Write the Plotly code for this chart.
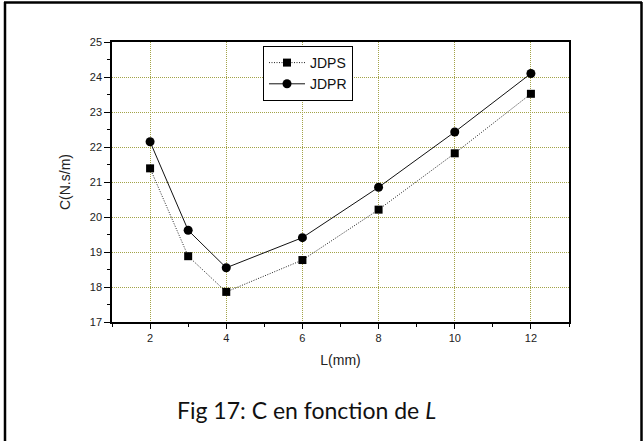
import plotly.graph_objects as go

L_mm = [2, 3, 4, 6, 8, 10, 12]
jdps = [21.39, 18.88, 17.86, 18.77, 20.21, 21.82, 23.52]
jdpr = [22.15, 19.62, 18.55, 19.41, 20.85, 22.43, 24.10]
x_ticks = [2, 4, 6, 8, 10, 12]
y_ticks = [17, 18, 19, 20, 21, 22, 23, 24, 25]

W, H = 643, 441
ml, mr, mt, mb = 112, 74, 42, 119
pw, ph = W - ml - mr, H - mt - mb

fig = go.Figure()
fig.add_trace(go.Scatter(
    x=L_mm, y=jdps, name="JDPS", mode="lines+markers",
    line=dict(color="#222", width=1, dash="1px,1.5px"),
    marker=dict(symbol="square", size=8, color="black"),
))
fig.add_trace(go.Scatter(
    x=L_mm, y=jdpr, name="JDPR", mode="lines+markers",
    line=dict(color="#111", width=1),
    marker=dict(symbol="circle", size=9, color="black"),
))

grid_col = "#a3a348"
sans = "Liberation Sans"
axis_font = dict(family=sans, size=11, color="#222")

fig.update_xaxes(
    range=[1, 13], tickvals=x_ticks, ticks="outside", ticklen=5, tickcolor="black",
    showline=True, linecolor="black", linewidth=1.5, mirror=True,
    showgrid=True, gridcolor=grid_col, griddash="1px,1px", gridwidth=1,
    zeroline=False, tickfont=axis_font,
    title=dict(text="L(mm)", font=dict(family=sans, size=14, color="#222"), standoff=12),
    minor=dict(tickvals=[1, 3, 5, 7, 9, 11, 13], ticks="outside", ticklen=3, tickcolor="black", showgrid=False),
)
fig.update_yaxes(
    range=[17, 25], tickvals=y_ticks, ticks="outside", ticklen=6, tickcolor="black",
    showline=True, linecolor="black", linewidth=1.5, mirror=True,
    showgrid=True, gridcolor=grid_col, griddash="1px,1px", gridwidth=1,
    zeroline=False, tickfont=axis_font,
    title=dict(text="C(N.s/m)", font=dict(family=sans, size=14, color="#222"), standoff=16),
    minor=dict(dtick=0.5, ticks="outside", ticklen=3, tickcolor="black", showgrid=False),
)

def px2x(px):
    return (px - ml) / pw

def py2y(py):
    return (H - mb - py) / ph

frame = dict(type="line", xref="paper", yref="paper", line=dict(color="black", width=2.5), layer="above")
fig.add_shape(**frame, x0=px2x(5), x1=px2x(5), y0=py2y(2), y1=py2y(441))
fig.add_shape(**frame, x0=px2x(4), x1=px2x(642), y0=py2y(2.5), y1=py2y(2.5))
fig.add_shape(**frame, x0=px2x(641.5), x1=px2x(641.5), y0=py2y(2), y1=py2y(441))

fig.add_annotation(
    text="Fig 17: C en fonction de <i>L</i>", xref="paper", yref="paper",
    x=px2x(306), y=py2y(410), xanchor="center", yanchor="middle", showarrow=False,
    font=dict(family="Lato", size=23, color="#111"),
)

fig.update_layout(
    width=W, height=H, margin=dict(l=ml, r=mr, t=mt, b=mb),
    paper_bgcolor="white", plot_bgcolor="white",
    showlegend=True,
    legend=dict(x=px2x(263), y=py2y(46), xanchor="left", yanchor="top",
                bordercolor="black", borderwidth=1, bgcolor="white",
                font=dict(family=sans, size=14, color="#111"),
                tracegroupgap=0, itemwidth=36),
)

fig.write_html("out.html")
